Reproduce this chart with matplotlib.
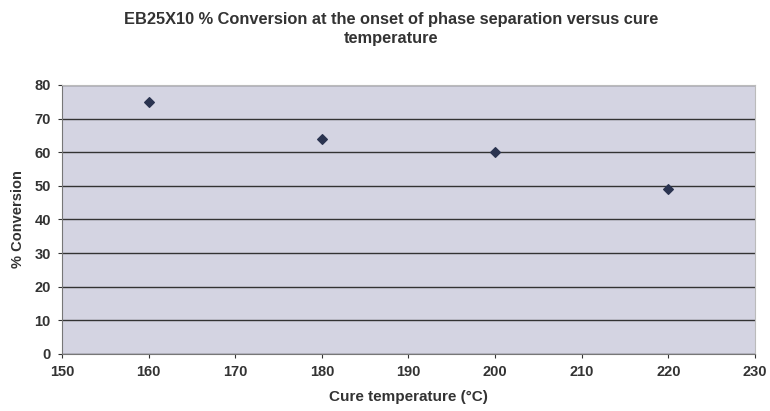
import matplotlib
matplotlib.use("Agg")
import matplotlib.pyplot as plt

plt.rcParams['font.family'] = ['Liberation Sans', 'DejaVu Sans']

temperature = [160, 180, 200, 220]
conversion = [75, 64, 60, 49]
x_ticks = [150, 160, 170, 180, 190, 200, 210, 220, 230]
y_ticks = [0, 10, 20, 30, 40, 50, 60, 70, 80]

fig = plt.figure(figsize=(7.7, 4.11), dpi=100)
ax = fig.add_axes([0.0805, 0.1387, 0.9, 0.6545])
ax.set_facecolor('#d4d4e2')
ax.scatter(temperature, conversion, marker='D', s=24, color='#2a3350', zorder=3)
ax.set_xlim(150, 230)
ax.set_ylim(0, 80)
ax.set_xticks(x_ticks)
ax.set_yticks(y_ticks)
ax.yaxis.grid(True, color='#333333', linewidth=1.0)
ax.set_axisbelow(True)
for s in ['top', 'right']:
    ax.spines[s].set_color('#bbbbbb')
for s in ['left', 'bottom']:
    ax.spines[s].set_color('#777777')
ax.tick_params(labelsize=10.5, colors='#333333', length=3, pad=5)
for lab in ax.get_xticklabels() + ax.get_yticklabels():
    lab.set_fontweight('bold')
ax.set_xlabel('Cure temperature (°C)', fontsize=11, fontweight='bold', color='#333333', labelpad=8)
ax.set_ylabel('% Conversion', fontsize=10.5, fontweight='bold', color='#333333', labelpad=7)
fig.text(0.508, 0.97, 'EB25X10 % Conversion at the onset of phase separation versus cure\ntemperature',
         ha='center', va='top', fontsize=11.8, fontweight='bold', color='#333333', linespacing=1.3)
fig.savefig('out.png', dpi=100, facecolor='white')
